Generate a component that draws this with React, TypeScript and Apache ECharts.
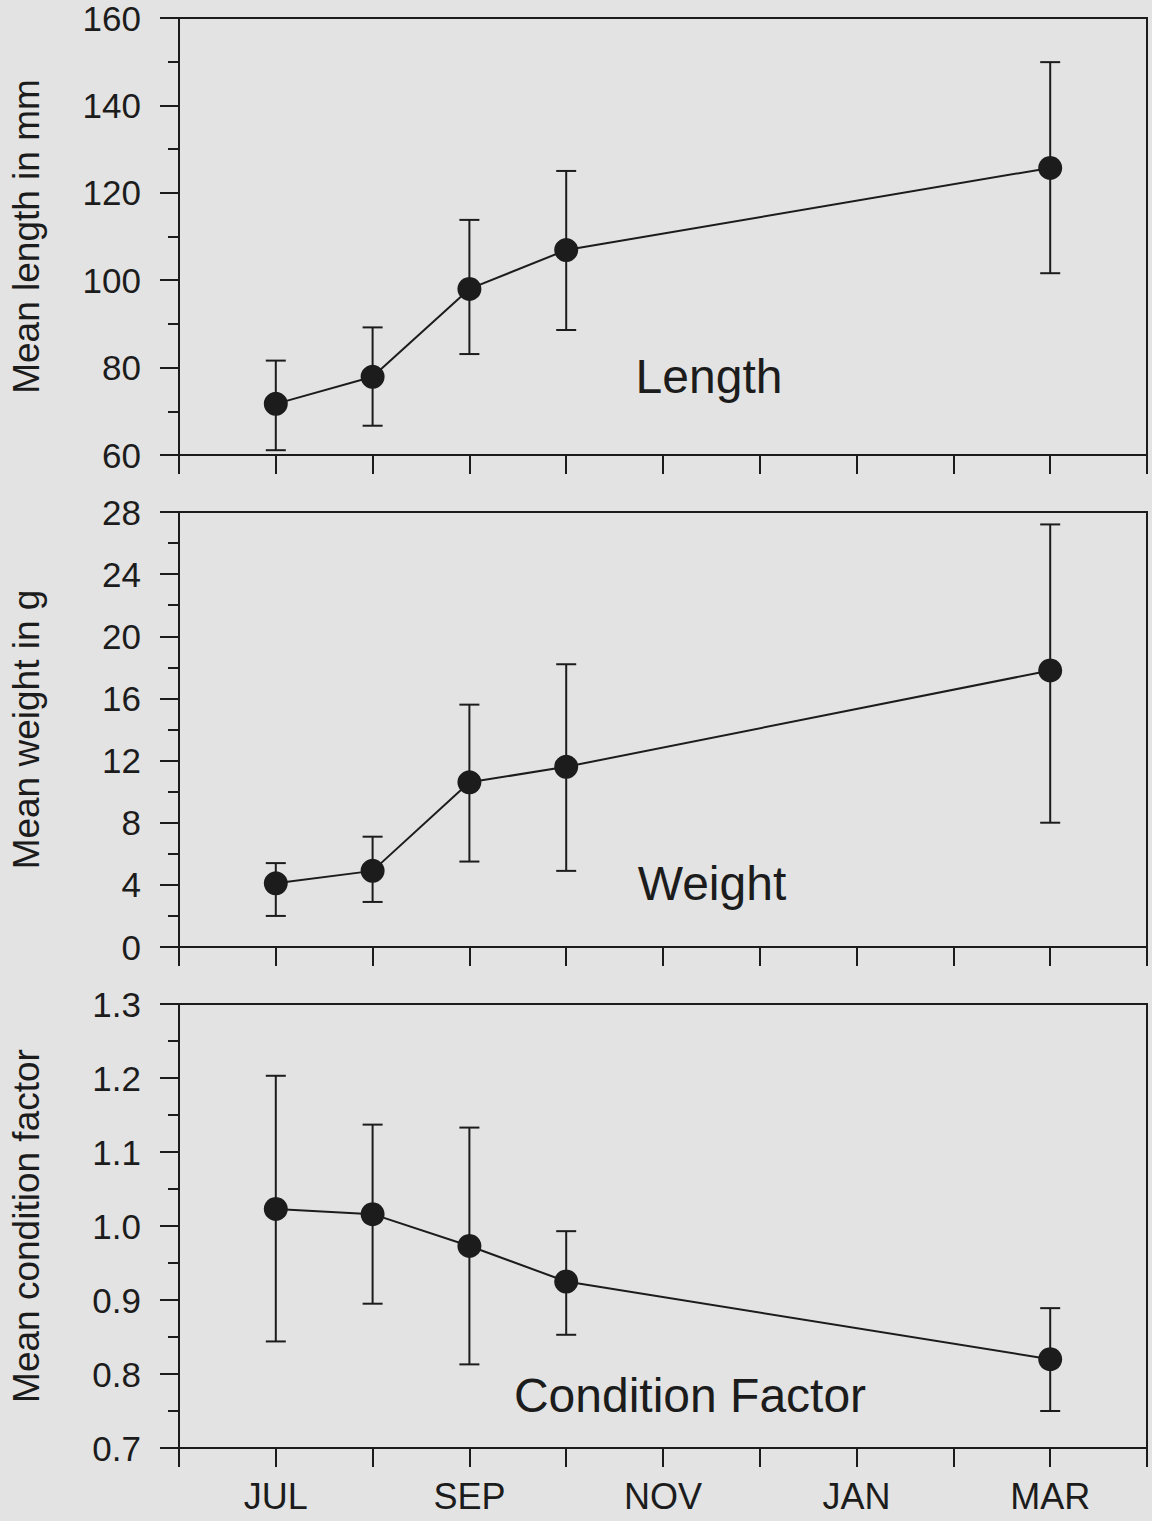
import React, { useEffect, useRef } from "react";
import * as echarts from "echarts";

// Month positions: 0 = JUN ... 10 = APR
const monthNames = ["JUN", "JUL", "AUG", "SEP", "OCT", "NOV", "DEC", "JAN", "FEB", "MAR", "APR"];
const labeledMonths = ["JUL", "SEP", "NOV", "JAN", "MAR"];
const sampleMonths = [1, 2, 3, 4, 9]; // JUL, AUG, SEP, OCT, MAR

const lengthMean = [71.7, 77.9, 98.0, 106.9, 125.7];
const lengthLow = [61.1, 66.7, 83.1, 88.6, 101.6];
const lengthHigh = [81.6, 89.2, 113.8, 125.0, 149.9];

const weightMean = [4.1, 4.9, 10.6, 11.6, 17.8];
const weightLow = [2.0, 2.9, 5.5, 4.9, 8.0];
const weightHigh = [5.4, 7.1, 15.6, 18.2, 27.2];

const condMean = [1.023, 1.016, 0.973, 0.925, 0.82];
const condLow = [0.844, 0.895, 0.813, 0.853, 0.75];
const condHigh = [1.203, 1.137, 1.133, 0.993, 0.889];

const INK = "#1c1c1c";
const BG = "#e3e3e3";
const FONT = "'Liberation Sans', Arial, Helvetica, sans-serif";

export default function App() {
  const ref = useRef<HTMLDivElement>(null);

  useEffect(() => {
    if (!ref.current) return;
    const chart = echarts.init(ref.current, null, { renderer: "svg" });

    const panels = [
      { top: 18, height: 437, min: 60, max: 160, interval: 20, name: "Mean length in mm", mean: lengthMean, low: lengthLow, high: lengthHigh, fmt: (v: number) => String(Math.round(v)) },
      { top: 512, height: 435, min: 0, max: 28, interval: 4, name: "Mean weight in g", mean: weightMean, low: weightLow, high: weightHigh, fmt: (v: number) => String(Math.round(v)) },
      { top: 1004, height: 444, min: 0.7, max: 1.3, interval: 0.1, name: "Mean condition factor", mean: condMean, low: condLow, high: condHigh, fmt: (v: number) => v.toFixed(1) },
    ];

    const grid = panels.map((p) => ({
      left: 176,
      right: 5,
      top: p.top,
      height: p.height,
      show: true,
      borderColor: INK,
      borderWidth: 2,
      backgroundColor: "transparent",
    }));

    const xAxis = panels.map((_, i) => ({
      type: "value",
      gridIndex: i,
      min: 0,
      max: 10,
      interval: 1,
      axisLine: { show: true, lineStyle: { color: INK, width: 2 } },
      axisTick: { show: true, length: 19, lineStyle: { color: INK, width: 2 } },
      axisLabel: {
        show: i === 2,
        margin: 30,
        color: INK,
        fontSize: 36,
        lineHeight: 36,
        fontFamily: FONT,
        formatter: (v: number) => {
          const n = monthNames[Math.round(v)];
          return labeledMonths.includes(n) ? n : "";
        },
      },
      splitLine: { show: false },
    }));

    const yAxis = panels.map((p, i) => ({
      type: "value",
      gridIndex: i,
      min: p.min,
      max: p.max,
      interval: p.interval,
      name: p.name,
      nameLocation: "middle",
      nameGap: 134,
      nameTextStyle: { color: INK, fontSize: 37, fontFamily: FONT },
      axisLine: { show: true, lineStyle: { color: INK, width: 2 } },
      axisTick: { show: true, length: 19, lineStyle: { color: INK, width: 2 } },
      minorTick: { show: true, splitNumber: 2, length: 11, lineStyle: { color: INK, width: 2 } },
      axisLabel: { margin: 38, color: INK, fontSize: 35, fontFamily: FONT, formatter: p.fmt },
      splitLine: { show: false },
      minorSplitLine: { show: false },
    }));

    const series: any[] = [];
    panels.forEach((p, i) => {
      series.push({
        type: "custom",
        xAxisIndex: i,
        yAxisIndex: i,
        z: 2,
        encode: { x: 0, y: [1, 2] },
        data: sampleMonths.map((m, k) => [m, p.low[k], p.high[k]]),
        renderItem: (params: any, api: any) => {
          const x = api.value(0);
          const lo = api.coord([x, api.value(1)]);
          const hi = api.coord([x, api.value(2)]);
          const w = 10;
          const style = { stroke: INK, lineWidth: 2 };
          return {
            type: "group",
            children: [
              { type: "line", shape: { x1: hi[0], y1: hi[1], x2: lo[0], y2: lo[1] }, style },
              { type: "line", shape: { x1: hi[0] - w, y1: hi[1], x2: hi[0] + w, y2: hi[1] }, style },
              { type: "line", shape: { x1: lo[0] - w, y1: lo[1], x2: lo[0] + w, y2: lo[1] }, style },
            ],
          };
        },
      });
      series.push({
        type: "line",
        xAxisIndex: i,
        yAxisIndex: i,
        z: 3,
        data: sampleMonths.map((m, k) => [m, p.mean[k]]),
        symbol: "circle",
        symbolSize: 24,
        itemStyle: { color: INK },
        lineStyle: { color: INK, width: 2 },
      });
    });

    const labelStyle = { fill: INK, fontSize: 48, fontFamily: FONT, textAlign: "center", textVerticalAlign: "middle" };

    chart.setOption({
      animation: false,
      backgroundColor: BG,
      grid,
      xAxis,
      yAxis,
      series,
      graphic: [
        { type: "text", x: 709, y: 376, style: { ...labelStyle, text: "Length" } },
        { type: "text", x: 712, y: 883, style: { ...labelStyle, text: "Weight" } },
        { type: "text", x: 690, y: 1395, style: { ...labelStyle, text: "Condition Factor" } },
      ],
    });

    return () => chart.dispose();
  }, []);

  return (
    <div
      ref={ref}
      style={{ position: "absolute", left: 0, top: 0, width: 1152, height: 1521 }}
    />
  );
}
